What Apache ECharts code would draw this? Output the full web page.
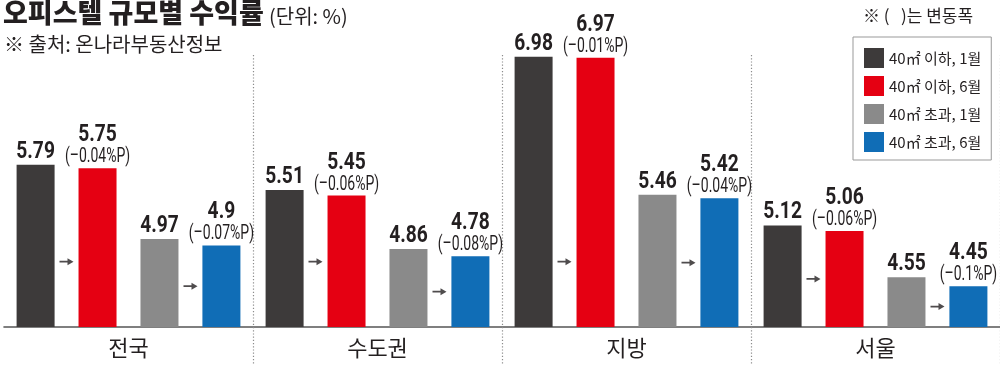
<!DOCTYPE html>
<html><head><meta charset="utf-8">
<script src="https://cdn.jsdelivr.net/npm/echarts@6/dist/echarts.min.js"></script>
<style>html,body{margin:0;padding:0;background:#fff}#c{width:1000px;height:365px}</style>
</head><body><div id="c"></div>
<script>
const categories = ['전국', '수도권', '지방', '서울'];
const seriesNames = ['40㎡ 이하, 1월', '40㎡ 이하, 6월', '40㎡ 초과, 1월', '40㎡ 초과, 6월'];
const smallJan = [5.79, 5.51, 6.98, 5.12];
const smallJun = [5.75, 5.45, 6.97, 5.06];
const largeJan = [4.97, 4.86, 5.46, 4.55];
const largeJun = [4.9, 4.78, 5.42, 4.45];
const smallChange = [-0.04, -0.06, -0.01, -0.06];
const largeChange = [-0.07, -0.08, -0.04, -0.1];

const colors = ['#3d3a3a', '#e50012', '#8a8a8a', '#106db6'];
const TXT = '#231f20';
const NUMF = "Roboto,'Noto Sans',sans-serif";
const KR = "'Noto Sans CJK KR',sans-serif";
const AXIS_MIN = 4, AXIS_MAX = 7;
const ARROW_LEVEL = 4.72;
const BAR_W = 38, BAR_GAP = 0.63;

function fmtChange(x){ return '(' + (x < 0 ? '–' : '+') + String(Math.abs(x)) + '%P)'; }

function barSeries(idx, values){
  return {
    name: seriesNames[idx], type: 'bar', data: values,
    barWidth: BAR_W, barGap: (BAR_GAP * 100) + '%',
    itemStyle: {color: colors[idx]}
  };
}
const allValues = [smallJan, smallJun, largeJan, largeJun];
const allChanges = [null, smallChange, null, largeChange];
const labelData = [];
categories.forEach((c, i) => {
  allValues.forEach((arr, s) => { labelData.push([i, arr[i], s]); });
});

function renderLabel(params, api){
  const i = api.value(0), v = api.value(1), s = api.value(2);
  const pt = api.coord([i, v]);
  const x = pt[0] + (s - 1.5) * BAR_W * (1 + BAR_GAP);
  const top = pt[1];
  const changes = allChanges[s];
  const children = [];
  let valBottom = top - 1;
  if (changes) {
    children.push({type: 'text', x: x, y: top - 1, scaleX: 0.7, scaleY: 1,
      style: {text: fmtChange(changes[i]), fill: TXT, font: '20px ' + NUMF,
              textAlign: 'center', textVerticalAlign: 'bottom'}});
    valBottom = top - 21;
  }
  children.push({type: 'text', x: x, y: valBottom, scaleX: 0.8, scaleY: 1,
    style: {text: String(v), fill: TXT, font: 'bold 24px ' + NUMF,
            textAlign: 'center', textVerticalAlign: 'bottom'}});
  return {type: 'group', children: children};
}

const arrowPath = 'path://M0,2.6 L8,2.6 L8,0 L14,3.5 L8,7 L8,4.4 L0,4.4 Z';
const sepInterval = function(i){ return i > 0; };
const sepStyle = {color: '#8c8c8c', width: 1.2, type: [1.2, 2]};

const option = {
  animation: false,
  title: [
    {text: '오피스텔 규모별 수익률', left: 3, top: -1, padding: 0,
     textStyle: {fontFamily: KR, fontSize: 27, fontWeight: 900, color: TXT}},
    {text: '(단위: %)', left: 269, top: 6, padding: 0,
     textStyle: {fontFamily: KR, fontSize: 20, fontWeight: 'normal', color: TXT}},
    {text: '※ 출처: 온나라부동산정보', left: 4, top: 34, padding: 0,
     textStyle: {fontFamily: KR, fontSize: 20, fontWeight: 'normal', color: TXT}},
    {text: '※ (   )는 변동폭', left: 863, top: 7, padding: 0,
     textStyle: {fontFamily: KR, fontSize: 17, fontWeight: 'normal', color: TXT}}
  ],
  legend: {
    data: seriesNames, orient: 'vertical', left: 853, top: 37,
    padding: [11, 10, 8, 11], itemGap: 8, itemWidth: 20, itemHeight: 20,
    icon: 'rect', borderColor: '#999', borderWidth: 1,
    textStyle: {fontFamily: KR, fontSize: 15, color: TXT}
  },
  grid: {left: 4, right: -4, top: 55, bottom: 38},
  xAxis: {
    type: 'category', data: categories, boundaryGap: true,
    axisLine: {lineStyle: {color: '#555', width: 1.6}},
    axisTick: {show: true, length: 38, interval: sepInterval, lineStyle: sepStyle},
    splitLine: {show: true, interval: sepInterval, lineStyle: sepStyle},
    axisLabel: {fontFamily: KR, fontSize: 22, color: TXT, margin: 10}
  },
  yAxis: {type: 'value', min: AXIS_MIN, max: AXIS_MAX, show: false, splitLine: {show: false}},
  series: [
    barSeries(0, smallJan),
    barSeries(1, smallJun),
    barSeries(2, largeJan),
    barSeries(3, largeJun),
    {type: 'scatter', name: 'arrow1', symbol: arrowPath, symbolSize: [14, 7], symbolOffset: [-62, 0],
     itemStyle: {color: TXT}, silent: true, z: 5,
     data: smallJun.map(v => Math.min(ARROW_LEVEL, (AXIS_MIN + v) / 2))},
    {type: 'scatter', name: 'arrow2', symbol: arrowPath, symbolSize: [14, 7], symbolOffset: [62, 0],
     itemStyle: {color: TXT}, silent: true, z: 5,
     data: largeJun.map(v => Math.min(ARROW_LEVEL, (AXIS_MIN + v) / 2))},
    {type: 'custom', name: 'labels', renderItem: renderLabel, data: labelData,
     clip: false, silent: true, z: 6, encode: {x: 0, y: 1}}
  ]
};
echarts.init(document.getElementById('c'), null, {renderer: 'canvas'}).setOption(option);
</script>
</body></html>
